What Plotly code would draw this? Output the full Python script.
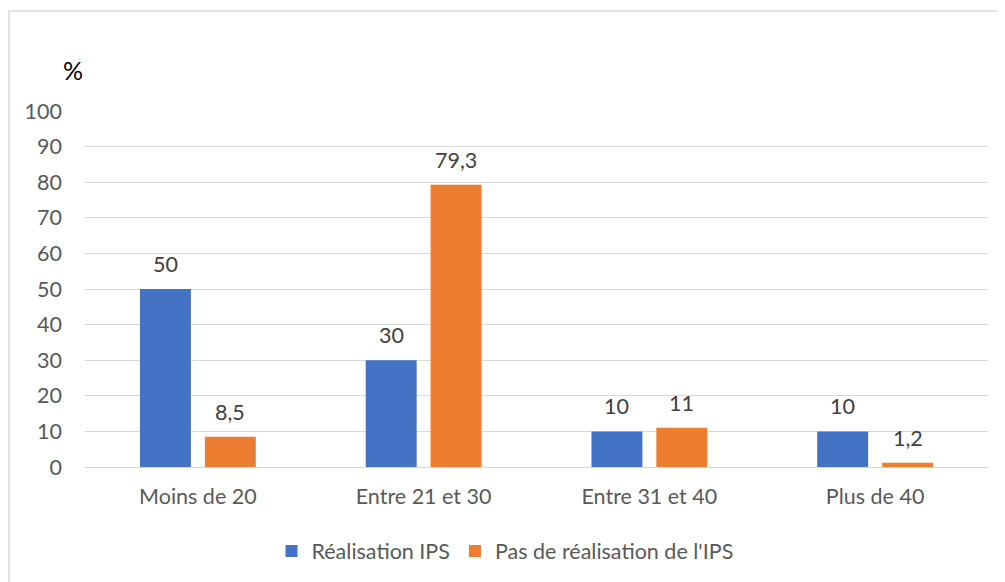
import plotly.graph_objects as go

categories = ["Moins de 20", "Entre 21 et 30", "Entre 31 et 40", "Plus de 40"]
realisation = [50, 30, 10, 10]
pas_realisation = [8.5, 79.3, 11, 1.2]
series_names = ["Réalisation IPS", "Pas de réalisation de l'IPS"]
y_ticks = list(range(0, 101, 10))

FONT = "Lato"
SIZE = 21.5
BLUE = "#4472C4"
ORANGE = "#ED7D31"

# page body has an 8px margin; figure is placed at (8, 8)
OFF = 8
W, H = 1005 - OFF, 582 - OFF
PL, PR, PT, PB = 85, 988, 111, 467  # target plot area in screen pixels
pw, ph = PR - PL, PB - PT

fig = go.Figure()
fig.add_trace(go.Bar(x=categories, y=realisation, name=series_names[0],
                     marker=dict(color=BLUE, line=dict(width=0))))
fig.add_trace(go.Bar(x=categories, y=pas_realisation, name=series_names[1],
                     marker=dict(color=ORANGE, line=dict(width=0))))


def fmt(v):
    return ("%g" % v).replace(".", ",")


annotations = []
for series, shift in ((realisation, -32.5), (pas_realisation, 32.5)):
    for c, v in zip(categories, series):
        annotations.append(dict(x=c, y=v, xref="x", yref="y", text=fmt(v),
                                showarrow=False, xshift=shift, yshift=25,
                                yanchor="middle",
                                font=dict(family=FONT, size=SIZE, color="#404040")))
annotations.append(dict(x=(73 - PL) / pw, y=(PB - 70) / ph, xref="paper", yref="paper",
                        text="%", showarrow=False, xanchor="center", yanchor="middle",
                        font=dict(family=FONT, size=25, color="#000000")))

fig.update_layout(
    width=W, height=H,
    margin=dict(l=PL - OFF, r=1005 - PR, t=PT - OFF, b=582 - PB),
    paper_bgcolor="white", plot_bgcolor="white",
    barmode="group", bargap=0.425, bargroupgap=0.215,
    font=dict(family=FONT, size=SIZE, color="#595959"),
    showlegend=True,
    legend=dict(orientation="h", xref="container", yref="container",
                x=(505 - OFF) / W, xanchor="center", y=1 - (551 - OFF) / H, yanchor="middle",
                font=dict(family=FONT, size=SIZE, color="#595959"),
                itemwidth=30, traceorder="normal"),
    annotations=annotations,
    shapes=[dict(type="rect", xref="paper", yref="paper",
                 x0=(9 - PL) / pw, x1=(1030 - PL) / pw,
                 y0=(PB - 620) / ph, y1=(PB - 11) / ph,
                 line=dict(color="#D9D9D9", width=1.5), fillcolor="rgba(0,0,0,0)",
                 layer="below")],
)
fig.update_xaxes(showgrid=False, showline=False, ticks="", ticklabelstandoff=14,
                 tickfont=dict(family=FONT, size=SIZE, color="#595959"))
fig.update_yaxes(range=[0, 100], tickvals=y_ticks, showgrid=True, gridcolor="#D9D9D9",
                 gridwidth=1.3, zeroline=True, zerolinecolor="#D9D9D9", zerolinewidth=1.3,
                 showline=False, ticks="", ticklabelstandoff=22,
                 tickfont=dict(family=FONT, size=SIZE, color="#595959"))

fig.write_html("out.html")
